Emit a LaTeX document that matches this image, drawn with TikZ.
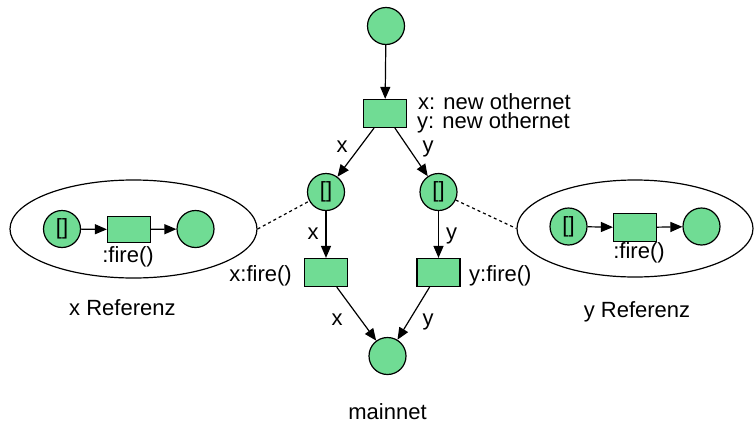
\documentclass[tikz,border=0pt]{standalone}
\usepackage{fontspec}
\setmainfont{Liberation Sans}
\usetikzlibrary{arrows.meta,shapes.geometric}
\definecolor{netgreen}{RGB}{112,220,148}
\tikzset{
  place/.style={circle,draw,fill=netgreen,line width=1.2pt,minimum size=37pt,inner sep=0pt},
  trans/.style={rectangle,draw,fill=netgreen,line width=1.2pt,minimum width=43pt,minimum height=28pt,inner sep=0pt},
  refbox/.style={ellipse,draw,line width=1.2pt,inner sep=0pt},
  arc/.style={line width=1.2pt,-{Triangle[length=12pt,width=10pt]}},
  link/.style={line width=1.2pt,dash pattern=on 3pt off 3pt},
  lbl/.style={inner sep=0pt,anchor=base},
  lblw/.style={inner sep=0pt,anchor=base west},
}
\begin{document}
\begin{tikzpicture}[x=1pt,y=-1pt,font=\fontsize{22}{24}\selectfont]
\useasboundingbox (0,0) rectangle (754,423);

% main net
\node[place] (start) at (386,26) {};
\node[trans] (create) at (385,113.5) {};
\node[place] (xp) at (326,192) {[]};
\node[place] (yp) at (438.5,192) {[]};
\node[trans] (xt) at (326,272.5) {};
\node[trans] (yt) at (438.5,272.5) {};
\node[place] (main) at (387.5,356) {};

\draw[arc] (start) -- (create);
\draw[arc] (create) -- (xp);
\draw[arc] (create) -- (yp);
\draw[arc] (xp) -- (xt);
\draw[arc] (yp) -- (yt);
\draw[arc] (xt) -- (main);
\draw[arc] (yt) -- (main);

% labels of the main net
\node[lblw,text depth=0pt] (lnx) at (418,109.5) {x: new othernet};
\node[lblw,text height=11pt] (lny) at (417,128) {y: new othernet};
\node[lbl] (ax1) at (342,152) {x};
\node[lbl] (ay1) at (428,152) {y};
\node[lbl] (ax2) at (313,239) {x};
\node[lbl] (ay2) at (451.5,239) {y};
\node[inner sep=0pt,anchor=base east] (lxf) at (292,281) {x:fire()};
\node[lblw] (lyf) at (469,281) {y:fire()};
\node[lbl] (ax3) at (337,325) {x};
\node[lbl] (ay3) at (428,325) {y};
\node[lbl,text depth=0pt] (lmain) at (387.5,419) {mainnet};

% x reference net
\node[refbox,minimum width=247pt,minimum height=98pt] (lell) at (133.5,229) {};
\node[place] (lp1) at (62,229) {[]};
\node[trans,minimum height=26pt] (lt) at (129,229.5) {};
\node[place] (lp2) at (195.5,229) {};
\draw[arc] (lp1) -- (lt);
\draw[arc] (lt) -- (lp2);
\node[lbl] (lfire) at (128,262) {:fire()};
\node[lblw] (lref) at (69,315) {x Referenz};

% y reference net
\node[refbox,minimum width=236pt,minimum height=97pt] (rell) at (635,228.5) {};
\node[place] (rp1) at (568.5,226.5) {[]};
\node[trans] (rt) at (635,227.5) {};
\node[place] (rp2) at (701.5,226.5) {};
\draw[arc] (rp1) -- (rt);
\draw[arc] (rt) -- (rp2);
\node[lbl] (rfire) at (639,258) {:fire()};
\node[lbl] (rref) at (637,317) {y Referenz};

% references to the token places
\draw[link] (lell.east) -- (xp);
\draw[link] (yp) -- (rell.west);
\end{tikzpicture}
\end{document}
